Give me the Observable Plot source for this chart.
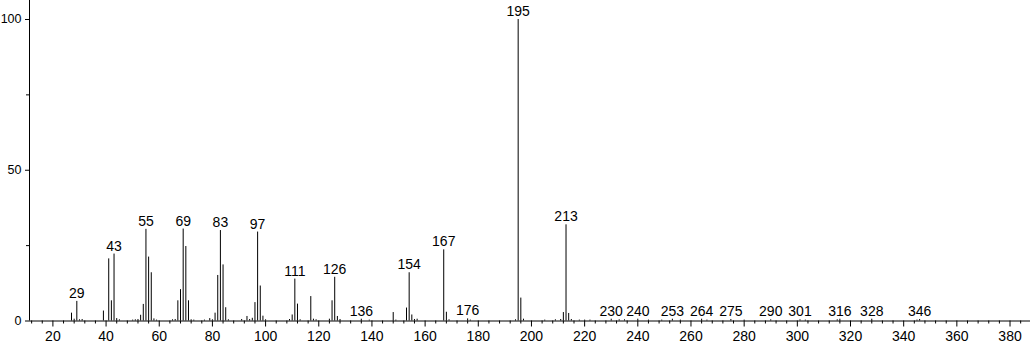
<!DOCTYPE html>
<html>
<head>
<meta charset="utf-8">
<script src="https://cdn.jsdelivr.net/npm/d3@7"></script>
<script src="https://cdn.jsdelivr.net/npm/@observablehq/plot@0.6"></script>
<style>
  html, body { margin: 0; padding: 0; background: #fff; }
</style>
</head>
<body>
<div id="chart"></div>
<script>
// m/z values and relative intensities (%)
const mz = [27, 28, 29, 30, 31, 39, 41, 42, 43, 44, 45, 50, 51, 52, 53, 54, 55, 56, 57, 58, 59,
  65, 66, 67, 68, 69, 70, 71, 72, 73, 77, 79, 80, 81, 82, 83, 84, 85, 86,
  91, 93, 94, 95, 96, 97, 98, 99, 100, 109, 110, 111, 112, 113, 117, 118, 119,
  124, 125, 126, 127, 128, 136, 139, 148, 149, 153, 154, 155, 156, 157,
  167, 168, 169, 176, 177, 194, 195, 196, 197, 205, 209, 211, 212, 213, 214, 215,
  218, 220, 222, 230, 233, 235, 240, 244, 249, 253, 256, 264, 266, 275, 280,
  290, 301, 303, 315, 316, 328, 345, 346];
const intensity = [2.6, 0.6, 6.5, 0.4, 0.5, 3.3, 20.6, 6.7, 22.2, 0.8, 0.4, 0.3, 0.4, 0.5, 1.9, 5.5, 30.4, 21.2, 16.0, 0.7, 0.3,
  0.4, 0.5, 6.7, 10.4, 30.5, 24.7, 6.7, 0.4, 0.3, 0.3, 0.8, 0.4, 2.6, 15.1, 30.0, 18.6, 4.4, 0.4,
  0.5, 1.5, 0.5, 0.9, 6.1, 29.5, 11.6, 1.6, 0.4, 0.5, 2.0, 13.9, 5.6, 0.4, 8.1, 0.6, 0.4,
  0.6, 6.7, 14.5, 1.5, 0.5, 0.6, 0.3, 2.8, 0.3, 4.3, 16.0, 2.0, 0.5, 0.6,
  23.6, 2.9, 0.4, 0.7, 0.3, 0.4, 100, 7.6, 0.6, 0.3, 0.4, 0.5, 2.8, 31.9, 2.5, 0.5,
  0.3, 0.3, 0.3, 0.6, 0.4, 0.4, 0.6, 0.3, 0.3, 0.6, 0.3, 0.6, 0.3, 0.5, 0.3,
  0.4, 0.4, 0.3, 0.4, 0.6, 0.6, 0.3, 0.5];
// peaks that carry an m/z label
const labeledMz = [29, 43, 55, 69, 83, 97, 111, 126, 136, 154, 167, 176, 195, 213,
  230, 240, 253, 264, 275, 290, 301, 316, 328, 346];
// axis ticks
const xMajorTicks = d3.range(20, 381, 20);
const xMinorTicks = d3.range(12, 388, 4).filter(d => d % 20 !== 0);
const yMajorTicks = [0, 50, 100];
const yMinorTicks = [25, 75];

const peaks = mz.map((m, i) => ({mz: m, i: intensity[i]}));
const labels = peaks.filter(d => labeledMz.includes(d.mz));

const xDomain = [11.2, 387.7];
const yDomain = [0, 106.3];

const chart = Plot.plot({
  width: 1033,
  height: 345,
  marginLeft: 29,
  marginRight: 3,
  marginTop: 0,
  marginBottom: 24.5,
  style: {fontFamily: "'Liberation Sans', Arial, Helvetica, sans-serif", fontSize: "14px", color: "#000", background: "#fff"},
  x: {domain: xDomain, axis: null},
  y: {domain: yDomain, axis: null},
  marks: [
    Plot.axisX({ticks: xMajorTicks, tickSize: 6, tickPadding: 4, label: null, fontSize: 14}),
    Plot.axisX({ticks: xMinorTicks, tickSize: 3, text: null, label: null}),
    Plot.axisY({ticks: yMajorTicks, tickSize: 4, tickPadding: 4, label: null, fontSize: 12.5}),
    Plot.axisY({ticks: yMinorTicks, tickSize: 3, text: null, label: null}),
    Plot.ruleY([0], {stroke: "#000"}),
    Plot.ruleX([xDomain[0]], {y1: yDomain[0], y2: yDomain[1], stroke: "#000"}),
    Plot.ruleX(peaks, {x: "mz", y1: 0, y2: "i", stroke: "#000", strokeWidth: 1}),
    Plot.text(labels, {x: "mz", y: "i", text: d => String(d.mz), lineAnchor: "bottom", dy: -3.5, fontSize: 14, fill: "#000"})
  ]
});
document.getElementById("chart").appendChild(chart);
</script>
</body>
</html>
